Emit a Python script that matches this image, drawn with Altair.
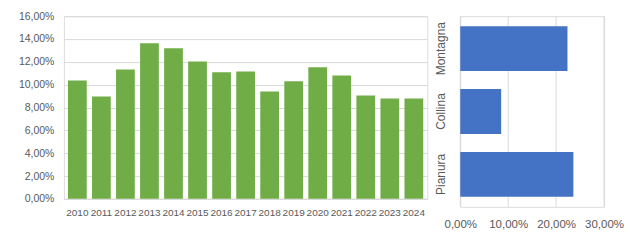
import altair as alt
import pandas as pd

years = [str(y) for y in range(2010, 2025)]
year_values = [0.1037, 0.0897, 0.1134, 0.1363, 0.1319, 0.1204, 0.1108, 0.1116,
               0.0941, 0.1029, 0.1152, 0.1081, 0.0905, 0.0879, 0.0879]
zones = ["Montagna", "Collina", "Pianura"]
zone_values = [0.2237, 0.0853, 0.2360]
zone_ticks = [0.0, 0.1, 0.2, 0.3]

df_years = pd.DataFrame({"anno": years, "valore": year_values})
df_zones = pd.DataFrame({"zona": zones, "valore": zone_values})
df_ticks = pd.DataFrame({"valore": zone_ticks})

FONT = "Liberation Sans"
TXT = "#595959"
GRID = "#D9D9D9"
pct = "replace(format(datum.value, '.2%'), '.', ',')"

left = alt.Chart(df_years).mark_bar(color="#70AD47").encode(
    x=alt.X("anno:N", sort=years, title=None,
            scale=alt.Scale(paddingInner=0.22, paddingOuter=0.17),
            axis=alt.Axis(labelAngle=0, labelFontSize=10, labelColor=TXT, labelFont=FONT,
                          ticks=False, domain=True, domainColor=GRID, labelPadding=9,
                          labelOverlap=False)),
    y=alt.Y("valore:Q", title=None,
            scale=alt.Scale(domain=[0, 0.16], nice=False),
            axis=alt.Axis(values=[0, 0.02, 0.04, 0.06, 0.08, 0.10, 0.12, 0.14, 0.16],
                          labelExpr=pct, labelFontSize=10.5, labelColor=TXT, labelFont=FONT,
                          ticks=False, domain=False, grid=True, gridColor=GRID,
                          labelPadding=10, labelFlush=False, labelOverlap=False)),
).properties(width=364, height=183)

xscale = alt.Scale(domain=[0, 0.30], nice=False)

grid_rules = alt.Chart(df_ticks).mark_rule(color=GRID, strokeWidth=1).encode(
    x=alt.X("valore:Q", scale=xscale, title=None,
            axis=alt.Axis(values=zone_ticks, labelExpr=pct, labelFontSize=11.5,
                          labelColor=TXT, labelFont=FONT, ticks=False, domain=False,
                          grid=False, labelPadding=12,
                          labelOverlap=False, labelFlush=False)),
)

bars = alt.Chart(df_zones).mark_bar(color="#4472C4").encode(
    y=alt.Y("zona:N", sort=zones, title=None,
            scale=alt.Scale(paddingInner=0.286, paddingOuter=0.16),
            axis=alt.Axis(labelAngle=-90, labelAlign="center", labelBaseline="bottom",
                          labelFontSize=12, labelColor=TXT, labelFont=FONT,
                          ticks=False, domain=False, labelPadding=13)),
    x=alt.X("valore:Q", scale=xscale, title=None),
)

right = alt.layer(grid_rules, bars).properties(width=144, height=191)

chart = alt.hconcat(left, right, spacing=33).properties(
    bounds="flush",
    padding={"left": 17, "top": 10, "right": 5, "bottom": 5},
).configure_view(stroke=None).configure(background="white")

chart.save("out.html", embed_options={"renderer": "svg", "actions": False})
